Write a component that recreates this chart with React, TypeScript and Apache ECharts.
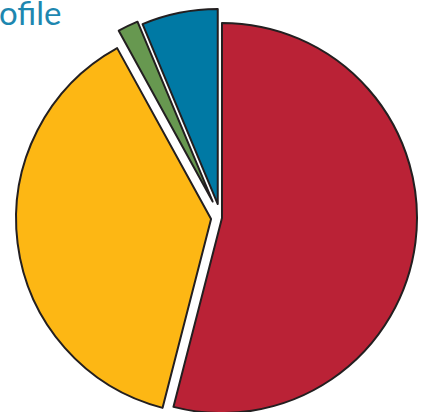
import React, { useEffect, useRef } from "react";
import * as echarts from "echarts";

const categories = ["Segment A", "Segment B", "Segment C", "Segment D"];
const values = [54.0, 38.0, 1.7, 6.3];
const titleText = "ofile";

const colors = ["#BA2236", "#FDB714", "#679850", "#0079A4"];
const offsets = [1.5, 9.5, 18, 14];

export default function App() {
  const ref = useRef<HTMLDivElement>(null);
  useEffect(() => {
    if (!ref.current) return;
    const chart = echarts.init(ref.current, null, { renderer: "svg" });
    const series = categories.map((_, s) => ({
      type: "pie",
      center: [220.5, 217.8],
      radius: 195,
      startAngle: 90,
      clockwise: true,
      selectedMode: "multiple",
      selectedOffset: offsets[s],
      silent: true,
      label: { show: false },
      labelLine: { show: false },
      emphasis: { disabled: true },
      z: 2 + s,
      data: categories.map((name, i) => {
        const vis = i === s;
        const st = vis
          ? { color: colors[i], borderColor: "#231f20", borderWidth: 2 }
          : { color: "rgba(0,0,0,0)", borderColor: "rgba(0,0,0,0)", borderWidth: 0 };
        return {
          name,
          value: values[i],
          selected: vis,
          itemStyle: st,
          select: { itemStyle: st },
        };
      }),
    }));
    chart.setOption({
      animation: false,
      backgroundColor: "#ffffff",
      graphic: [
        {
          type: "text",
          left: -1,
          top: -5,
          style: {
            text: titleText,
            fill: "#1d87b0",
            font: "normal 33px Lato, 'Open Sans', sans-serif",
            lineHeight: 25,
          },
          z: 10,
        },
      ],
      series,
    });
    return () => chart.dispose();
  }, []);
  return (
    <div
      ref={ref}
      style={{ position: "fixed", left: 0, top: 0, width: 426, height: 412 }}
    />
  );
}
